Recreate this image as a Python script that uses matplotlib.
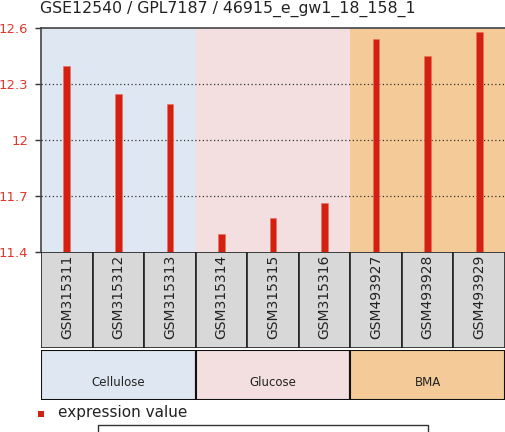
import matplotlib.pyplot as plt
from matplotlib.patches import Rectangle

title = "GSE12540 / GPL7187 / 46915_e_gw1_18_158_1"
samples = ["GSM315311", "GSM315312", "GSM315313",
           "GSM315314", "GSM315315", "GSM315316",
           "GSM493927", "GSM493928", "GSM493929"]
values = [12.396, 12.246, 12.193, 11.497, 11.582, 11.663, 12.541, 12.45, 12.579]
groups = ["Cellulose", "Glucose", "BMA"]
group_sizes = [3, 3, 3]
group_colors = ["#dfe8f2", "#f3dfdf", "#f3ca98"]
yticks = [11.4, 11.7, 12.0, 12.3, 12.6]
ytick_labels = ["11.4", "11.7", "12", "12.3", "12.6"]

W, H = 505, 432
fig = plt.figure(figsize=(W / 100, H / 100), dpi=100)


def box(x0, y0, x1, y1):
    # pixel box (top-left origin) -> figure fraction
    return [x0 / W, 1 - y1 / H, (x1 - x0) / W, (y1 - y0) / H]


n = len(samples)
ax = fig.add_axes(box(41, 28, 505, 252))
ax.set_xlim(0, n)
ax.set_ylim(11.4, 12.6)

start = 0
for size, color in zip(group_sizes, group_colors):
    ax.axvspan(start, start + size, color=color, lw=0, zorder=0)
    start += size

for y in yticks[1:-1]:
    ax.axhline(y, color="#333333", lw=0.9, ls=(0, (1, 2)), zorder=1)

ax.bar([i + 0.5 for i in range(n)], [v - 11.4 for v in values], bottom=11.4,
       width=0.13, color="#d42010", edgecolor="#e87060", lw=0.4, zorder=2)

ax.set_yticks(yticks)
ax.set_yticklabels(ytick_labels, color="#e0382c", fontsize=9.5)
ax.tick_params(axis="y", length=4, width=1, color="#333333", pad=5)
ax.set_xticks([])
for side in ["right", "bottom"]:
    ax.spines[side].set_visible(False)
for side in ["left", "top"]:
    ax.spines[side].set_color("#444444")
    ax.spines[side].set_linewidth(1.2)

fig.text(40 / W, 1 - 9 / H, title, fontsize=11.3, color="#222222", va="center")

# sample label boxes
sax = fig.add_axes(box(41, 252, 505, 348))
sax.set_xlim(0, n)
sax.set_ylim(0, 1)
sax.axis("off")
for i, s in enumerate(samples):
    sax.add_patch(Rectangle((i, 0), 1, 1, facecolor="#d8d8d8",
                            edgecolor="#222222", lw=1.2))
    sax.text(i + 0.5, 0.53, s, rotation=90, ha="center", va="center",
             fontsize=10, color="#222222")

# group boxes
gax = fig.add_axes(box(41, 350, 505, 400))
gax.set_xlim(0, n)
gax.set_ylim(0, 1)
gax.axis("off")
start = 0
for g, size, color in zip(groups, group_sizes, group_colors):
    gax.add_patch(Rectangle((start, 0), size, 1, facecolor=color,
                            edgecolor="#111111", lw=1.5))
    gax.text(start + size / 2, 0.36, g, ha="center", va="center",
             fontsize=8.5, color="#222222")
    start += size

# legend
fig.patches.append(Rectangle((38 / W, 1 - 417 / H), 6 / W, 6 / H,
                             facecolor="#d42010", edgecolor="none",
                             transform=fig.transFigure))
fig.text(58 / W, 1 - 413 / H, "expression value", fontsize=11,
         color="#222222", va="center")
fig.patches.append(Rectangle((98 / W, -0.05), 330 / W, (432 - 425) / H + 0.05,
                             facecolor="white", edgecolor="#333333", lw=1,
                             transform=fig.transFigure))

fig.savefig("out.png", dpi=100)
